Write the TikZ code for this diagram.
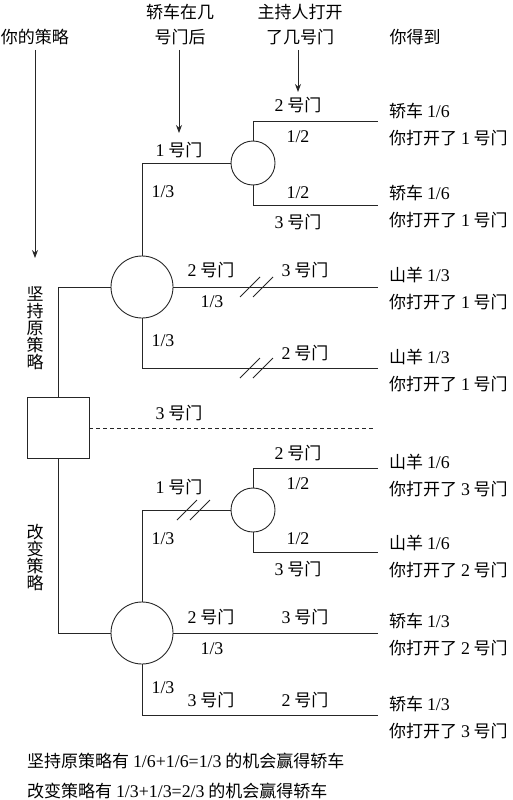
\documentclass[tikz,border=0pt]{standalone}
\usepackage{fontspec}
\setmainfont{Noto Sans CJK SC}
\newfontfamily\lat{Liberation Serif}[Scale=1.05]
\usetikzlibrary{arrows.meta}
\newcommand\nm[1]{{\lat #1}}
\begin{document}
\begin{tikzpicture}[x=1pt,y=-1pt,
  line/.style={draw=black!85, line width=0.9pt},
  lab/.style={inner sep=0pt, font=\fontsize{17}{25}\selectfont, align=center},
  outc/.style={inner sep=0pt, font=\fontsize{17}{27}\selectfont, align=left, anchor=west},
  vert/.style={inner sep=0pt, font=\fontsize{17}{17}\selectfont, align=center},
  chance/.style={circle, line, minimum size=#1, inner sep=0pt},
  decbox/.style={rectangle, line, minimum width=62pt, minimum height=61pt, inner sep=0pt},
  arr/.style={line, -{Stealth[length=8pt,width=6pt]}},
  dash line/.style={line, dash pattern=on 4pt off 3pt}]
\useasboundingbox (0,0) rectangle (513,800);

% headings
\node[lab] (strat) at (35,37) {你的策略};
\node[lab] (carq) at (180,24.5) {轿车在几\\号门后};
\node[lab] (hostq) at (300,24.5) {主持人打开\\了几号门};
\node[lab] (get) at (415,37) {你得到};

\coordinate (a1) at (35,258);
\coordinate (a2) at (179,133);
\coordinate (a3) at (298,92);
\coordinate (s1) at (35,50);
\coordinate (s2) at (179,50);
\coordinate (s3) at (298,50);
\draw[arr] (s1) -- (a1);
\draw[arr] (s2) -- (a2);
\draw[arr] (s3) -- (a3);

% nodes
\node[decbox] (box) at (58,428) {};
\node[chance=62pt] (C1) at (142,287) {};
\node[chance=44pt] (c1) at (253,163) {};
\node[chance=62pt] (C2) at (142,633) {};
\node[chance=44pt] (c2) at (253,510) {};

\coordinate (e1) at (378,121);
\coordinate (e2) at (378,205);
\coordinate (e3) at (378,287);
\coordinate (e4) at (378,368);
\coordinate (e5) at (375,428);
\coordinate (e6) at (378,468);
\coordinate (e7) at (378,552);
\coordinate (e8) at (378,633);
\coordinate (e9) at (378,715);

% connectors
\draw[line] (box.north) |- (C1.west);
\draw[line] (C1.north) |- (c1.west);
\draw[line] (c1.north) |- (e1);
\draw[line] (c1.south) |- (e2);
\draw[line] (C1.east) -- (e3);
\draw[line] (C1.south) |- (e4);
\draw[dash line] (box.east) -- (e5);
\draw[line] (box.south) |- (C2.west);
\draw[line] (C2.north) |- (c2.west);
\draw[line] (c2.north) |- (e6);
\draw[line] (c2.south) |- (e7);
\draw[line] (C2.east) -- (e8);
\draw[line] (C2.south) |- (e9);

% double slashes
\draw[line] (240,297) -- (260,277) (253,297) -- (273,277);
\draw[line] (240,378) -- (260,358) (253,378) -- (273,358);
\draw[line] (177,520) -- (197,500) (190,520) -- (210,500);

% upper tree labels
\node[lab] (l1) at (298,105) {\nm{2} 号门};
\node[lab] (l2) at (298,137) {\nm{1/2}};
\node[lab] (l3) at (179,150) {\nm{1} 号门};
\node[lab] (l4) at (163,192) {\nm{1/3}};
\node[lab] (l5) at (298,193) {\nm{1/2}};
\node[lab] (l6) at (298,222) {\nm{3} 号门};
\node[lab] (l7) at (211,270) {\nm{2} 号门};
\node[lab] (l8) at (305,270) {\nm{3} 号门};
\node[lab] (l9) at (212,302) {\nm{1/3}};
\node[lab] (l10) at (163,341) {\nm{1/3}};
\node[lab] (l11) at (305,353) {\nm{2} 号门};
\node[vert] (keep) at (35,328) {坚\\持\\原\\策\\略};
\node[lab] (l12) at (179,413) {\nm{3} 号门};

% lower tree labels
\node[lab] (m1) at (298,453) {\nm{2} 号门};
\node[lab] (m2) at (298,484) {\nm{1/2}};
\node[lab] (m3) at (179,487) {\nm{1} 号门};
\node[lab] (m4) at (163,539) {\nm{1/3}};
\node[lab] (m5) at (298,539) {\nm{1/2}};
\node[lab] (m6) at (298,569) {\nm{3} 号门};
\node[vert] (switch) at (35,557) {改\\变\\策\\略};
\node[lab] (m7) at (211,617) {\nm{2} 号门};
\node[lab] (m8) at (305,617) {\nm{3} 号门};
\node[lab] (m9) at (212,649) {\nm{1/3}};
\node[lab] (m10) at (163,688) {\nm{1/3}};
\node[lab] (m11) at (211,700) {\nm{3} 号门};
\node[lab] (m12) at (305,700) {\nm{2} 号门};

% outcomes
\node[outc] (o1) at (389,124.5) {轿车 \nm{1/6}\\你打开了 \nm{1} 号门};
\node[outc] (o2) at (389,206.5) {轿车 \nm{1/6}\\你打开了 \nm{1} 号门};
\node[outc] (o3) at (389,288.5) {山羊 \nm{1/3}\\你打开了 \nm{1} 号门};
\node[outc] (o4) at (389,370.5) {山羊 \nm{1/3}\\你打开了 \nm{1} 号门};
\node[outc] (o5) at (389,476) {山羊 \nm{1/6}\\你打开了 \nm{3} 号门};
\node[outc] (o6) at (389,556.5) {山羊 \nm{1/6}\\你打开了 \nm{2} 号门};
\node[outc] (o7) at (389,635) {轿车 \nm{1/3}\\你打开了 \nm{2} 号门};
\node[outc] (o8) at (389,717.5) {轿车 \nm{1/3}\\你打开了 \nm{3} 号门};

% summary
\node[outc] (sum1) at (27,761) {坚持原策略有 \nm{1/6+1/6=1/3} 的机会赢得轿车};
\node[outc] (sum2) at (27,791) {改变策略有 \nm{1/3+1/3=2/3} 的机会赢得轿车};
\end{tikzpicture}
\end{document}
